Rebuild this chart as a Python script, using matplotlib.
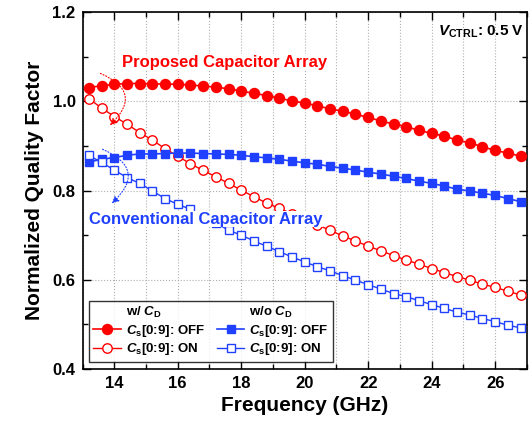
import numpy as np
import matplotlib
matplotlib.use("Agg")
import matplotlib.pyplot as plt
from matplotlib.lines import Line2D
from matplotlib.ticker import MultipleLocator

plt.rcParams['font.family'] = ['Liberation Sans', 'DejaVu Sans']
plt.rcParams['font.weight'] = 'bold'
plt.rcParams['mathtext.fontset'] = 'custom'
plt.rcParams['mathtext.rm'] = 'Liberation Sans:bold'
plt.rcParams['mathtext.it'] = 'Liberation Sans:bold:italic'
plt.rcParams['mathtext.bf'] = 'Liberation Sans:bold'

# frequency points (GHz)
freq = [13.2, 13.6, 14.0, 14.4, 14.8, 15.2, 15.6, 16.0, 16.4, 16.8, 17.2, 17.6,
        18.0, 18.4, 18.8, 19.2, 19.6, 20.0, 20.4, 20.8, 21.2, 21.6, 22.0, 22.4,
        22.8, 23.2, 23.6, 24.0, 24.4, 24.8, 25.2, 25.6, 26.0, 26.4, 26.8]

# w/ C_D (proposed)
prop_off = [1.031, 1.035, 1.038, 1.040, 1.040, 1.039, 1.039, 1.038, 1.037, 1.034,
            1.032, 1.028, 1.023, 1.018, 1.013, 1.007, 1.001, 0.996, 0.990, 0.983,
            0.978, 0.971, 0.964, 0.956, 0.949, 0.943, 0.935, 0.928, 0.922, 0.913,
            0.907, 0.898, 0.890, 0.884, 0.877]
prop_on = [1.006, 0.985, 0.966, 0.949, 0.930, 0.913, 0.894, 0.877, 0.860, 0.845,
           0.831, 0.816, 0.801, 0.786, 0.772, 0.760, 0.748, 0.736, 0.723, 0.711,
           0.698, 0.687, 0.675, 0.665, 0.654, 0.644, 0.635, 0.625, 0.616, 0.607,
           0.599, 0.590, 0.583, 0.574, 0.566]

# w/o C_D (conventional)
conv_off = [0.864, 0.870, 0.874, 0.879, 0.882, 0.882, 0.883, 0.884, 0.884, 0.883,
            0.882, 0.881, 0.879, 0.876, 0.873, 0.870, 0.866, 0.862, 0.859, 0.854,
            0.850, 0.846, 0.841, 0.837, 0.832, 0.827, 0.821, 0.816, 0.810, 0.803,
            0.799, 0.794, 0.789, 0.782, 0.775]
conv_on = [0.879, 0.863, 0.846, 0.829, 0.816, 0.799, 0.782, 0.769, 0.758, 0.742,
           0.727, 0.711, 0.700, 0.687, 0.675, 0.663, 0.651, 0.640, 0.629, 0.620,
           0.609, 0.599, 0.589, 0.579, 0.569, 0.562, 0.553, 0.544, 0.536, 0.527,
           0.521, 0.513, 0.506, 0.498, 0.492]

red = '#ff0000'
blue = '#2040ff'

fig = plt.figure(figsize=(5.29, 4.34), dpi=100)
ax = fig.add_axes([0.156, 0.150, 0.840, 0.822])

ax.plot(freq, prop_off, '-o', color=red, mfc=red, mec=red, ms=7.2, lw=1.2, zorder=3)
ax.plot(freq, prop_on, '-o', color=red, mfc='white', mec=red, ms=6.8, lw=1.0, mew=1.0, zorder=3)
ax.plot(freq, conv_off, '-s', color=blue, mfc=blue, mec=blue, ms=6.0, lw=1.2, zorder=3)
ax.plot(freq, conv_on, '-s', color=blue, mfc='white', mec=blue, ms=6.0, lw=1.0, mew=1.0, zorder=3)

ax.set_xlim(13, 27)
ax.set_ylim(0.4, 1.2)
ax.xaxis.set_major_locator(MultipleLocator(2))
ax.xaxis.set_minor_locator(MultipleLocator(1))
ax.yaxis.set_major_locator(MultipleLocator(0.2))
ax.yaxis.set_minor_locator(MultipleLocator(0.1))
ax.yaxis.set_major_formatter(matplotlib.ticker.FormatStrFormatter('%.1f'))
ax.tick_params(which='both', direction='in', top=True, right=True, width=1.0)
ax.tick_params(which='major', length=6, labelsize=12, pad=5)
ax.tick_params(which='minor', length=3.5)
for lab in ax.get_xticklabels() + ax.get_yticklabels():
    lab.set_fontweight('bold')
for s in ax.spines.values():
    s.set_linewidth(1.2)

ax.grid(True, which='both', axis='x', linestyle=':', color='#b0b0b0', lw=0.8)
ax.grid(True, which='major', axis='y', linestyle=':', color='#b0b0b0', lw=0.8)
ax.set_axisbelow(True)

ax.set_xlabel('Frequency (GHz)', fontsize=15, fontweight='bold', labelpad=4)
ax.set_ylabel('Normalized Quality Factor', fontsize=15, fontweight='bold', labelpad=6)

ax.text(0.993, 0.945, r'$V_{\rm CTRL}$: 0.5 V', transform=ax.transAxes, ha='right', va='center',
        fontsize=11, fontweight='bold')

ax.text(14.24, 1.088, 'Proposed Capacitor Array', color=red, fontsize=12, fontweight='bold',
        ha='left', va='center', zorder=5,
        bbox=dict(facecolor='white', edgecolor='none', pad=0.5))
ax.text(13.2, 0.736, 'Conventional Capacitor Array', color=blue, fontsize=12, fontweight='bold',
        ha='left', va='center', zorder=5,
        bbox=dict(facecolor='white', edgecolor='none', pad=0.5))

ax.annotate('', xy=(13.8, 0.942), xytext=(13.48, 1.065),
            arrowprops=dict(arrowstyle='-|>', linestyle=':', color=red, lw=0.8,
                            connectionstyle='arc3,rad=-0.8', mutation_scale=10))
ax.annotate('', xy=(13.86, 0.767), xytext=(13.55, 0.895),
            arrowprops=dict(arrowstyle='-|>', linestyle=':', color=blue, lw=0.8,
                            connectionstyle='arc3,rad=-0.8', mutation_scale=10))

blank = Line2D([], [], linestyle='none', marker='none')
h_po = Line2D([], [], color=red, marker='o', mfc=red, mec=red, ms=7.2, lw=1.2)
h_pn = Line2D([], [], color=red, marker='o', mfc='white', mec=red, ms=6.8, lw=1.0)
h_co = Line2D([], [], color=blue, marker='s', mfc=blue, mec=blue, ms=6.0, lw=1.2)
h_cn = Line2D([], [], color=blue, marker='s', mfc='white', mec=blue, ms=6.0, lw=1.0)
handles = [blank, h_po, h_pn, blank, h_co, h_cn]
labels = [r'w/ $C_{\rm D}$', r'$C_{\rm s}$[0:9]: OFF', r'$C_{\rm s}$[0:9]: ON',
          r'w/o $C_{\rm D}$', r'$C_{\rm s}$[0:9]: OFF', r'$C_{\rm s}$[0:9]: ON']
leg = ax.legend(handles, labels, ncol=2, loc='lower left', bbox_to_anchor=(0.014, 0.02),
                borderaxespad=0, frameon=True, fancybox=False,
                edgecolor='black', handlelength=2.1, handletextpad=0.35,
                columnspacing=0.9, labelspacing=0.18, borderpad=0.35,
                prop={'weight': 'bold', 'size': 9.5})
leg.get_frame().set_linewidth(1.0)
leg.set_zorder(6)

fig.savefig('out.png', dpi=100)
